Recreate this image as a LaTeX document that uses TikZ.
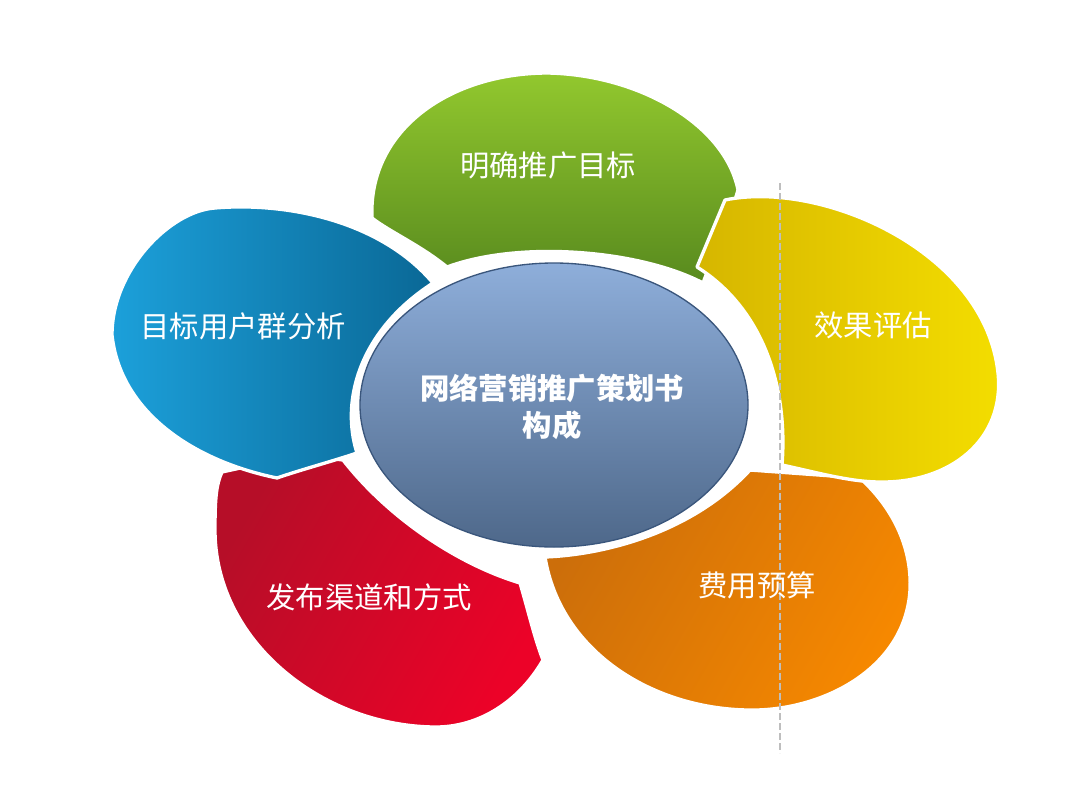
\documentclass[tikz,border=0pt]{standalone}
\usepackage{fontspec}
\newfontfamily\cjk{Noto Sans CJK SC}
\definecolor{grnTop}{RGB}{146,200,46}
\definecolor{grnBot}{RGB}{88,138,30}
\definecolor{ylwL}{RGB}{214,182,0}
\definecolor{ylwR}{RGB}{244,222,0}
\definecolor{blueL}{RGB}{28,160,218}
\definecolor{blueR}{RGB}{10,104,150}
\definecolor{redL}{RGB}{182,14,40}
\definecolor{redR}{RGB}{236,2,40}
\definecolor{orgL}{RGB}{204,110,10}
\definecolor{orgR}{RGB}{246,136,0}
\definecolor{hubTop}{RGB}{142,174,218}
\definecolor{hubBot}{RGB}{78,104,138}
\definecolor{hubLine}{RGB}{58,86,124}
\definecolor{guide}{RGB}{190,190,190}
\tikzset{every picture/.style={line width=0.75pt}}
\begin{document}
\begin{tikzpicture}[x=0.75pt,y=0.75pt,yscale=-1,xscale=1,
  petal/.style={draw=white,line width=2.5pt,line join=round},
  lbl/.style={inner sep=0.75pt,text=white,font=\cjk\fontsize{22}{26}\selectfont},
  hub/.style={inner sep=0.75pt,text=white,align=center,font=\cjk\bfseries\fontsize{22}{27.4}\selectfont}]
\path[fill=white] (0,0) rectangle (1080,810);
%Shape: Petal green
\draw [petal,top color=grnTop,bottom color=grnBot] (447,267) .. controls (420,245) and (390,232) .. (372,218) .. controls (368,130) and (450,73) .. (548,73) .. controls (640,75) and (725,125) .. (738,190) .. controls (728,225) and (712,258) .. (703,283) .. controls (640,250) and (520,240) .. (447,267) -- cycle ;
%Shape: Petal orange
\draw [petal,left color=orgL,right color=orgR,shading angle=60] (750,470) -- (860,478) .. controls (895,510) and (912,550) .. (910,590) .. controls (905,670) and (820,712) .. (747,710) .. controls (650,708) and (560,650) .. (545,557) .. controls (600,555) and (690,535) .. (750,470) -- cycle ;
%Shape: Petal red
\draw [petal,left color=redL,right color=redR,shading angle=60] (343,460) .. controls (390,520) and (460,565) .. (520,583) .. controls (528,610) and (535,640) .. (543,660) .. controls (520,700) and (480,728) .. (433,727) .. controls (320,725) and (215,640) .. (215,530) .. controls (215,500) and (216,485) .. (222,472) -- (300,455) -- cycle ;
%Shape: Petal yellow
\draw [petal,left color=ylwL,right color=ylwR] (697,267) -- (725,200) .. controls (820,180) and (985,250) .. (998,373) .. controls (1005,440) and (950,483) .. (880,482) .. controls (850,482) and (815,472) .. (782,465) .. controls (788,390) and (765,310) .. (697,267) -- cycle ;
%Shape: Petal blue
\draw [petal,left color=blueL,right color=blueR] (433,283) .. controls (380,220) and (285,202) .. (215,208) .. controls (170,211) and (112,270) .. (112,335) .. controls (120,410) and (190,460) .. (277,478) .. controls (300,470) and (330,462) .. (357,453) .. controls (340,400) and (360,330) .. (433,283) -- cycle ;
%Shape: Ellipse hub
\draw [color=hubLine,top color=hubTop,bottom color=hubBot,line width=1pt] (554,405) ellipse (194 and 142) ;
%Straight Lines guide
\draw [color=guide,line width=1.5pt,dash pattern={on 5pt off 2.5pt}] (780,183) -- (780,753) ;
% Text Node
\node [lbl] (goal) at (548,165) {明确推广目标};
% Text Node
\node [lbl] (eval) at (873,325) {效果评估};
% Text Node
\node [lbl] (users) at (243,326) {目标用户群分析};
% Text Node
\node [lbl] (channel) at (369,597) {发布渠道和方式};
% Text Node
\node [lbl] (budget) at (757,585) {费用预算};
% Text Node
\node [hub] (title) at (552,407) {网络营销推广策划书\\构成};
\end{tikzpicture}
\end{document}
